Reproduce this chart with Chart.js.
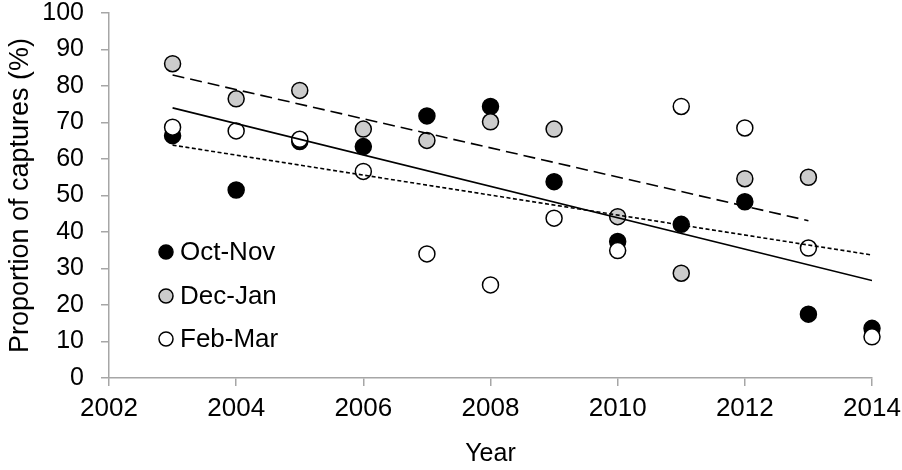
<!DOCTYPE html>
<html>
<head>
<meta charset="utf-8">
<script src="https://cdn.jsdelivr.net/npm/chart.js@4/dist/chart.umd.min.js"></script>
<style>
  html, body { margin: 0; padding: 0; background: #fff; }
  #wrap { width: 902px; height: 470px; }
</style>
</head>
<body>
<div id="wrap"><canvas id="myChart" width="902" height="470"></canvas></div>
<script>
// values
var years = [2003, 2004, 2005, 2006, 2007, 2008, 2009, 2010, 2011, 2012, 2013, 2014];
var octNov = [66.4, 51.5, 64.8, 63.4, 71.8, 74.4, 53.8, 37.4, 42.1, 48.3, 17.5, 13.6];
var decJan = [86.1, 76.5, 78.8, 68.2, 65.1, 70.2, 68.2, 44.2, 28.7, 54.6, 55.0];
var febMar = [68.7, 67.7, 65.4, 56.6, 34.0, 25.5, 43.8, 34.9, 74.4, 68.5, 35.6, 11.3];

// trend line end points
var octNovTrendX = [2003, 2014];
var octNovTrend = [74.0, 26.7];
var decJanTrendX = [2003, 2013];
var decJanTrend = [83.0, 43.1];
var febMarTrendX = [2003, 2014];
var febMarTrend = [63.8, 33.7];

var seriesNames = ['Oct-Nov', 'Dec-Jan', 'Feb-Mar'];

function pts(xs, ys) {
    return ys.map(function (v, i) { return { x: xs[i], y: v }; });
}

var FONT = 'Liberation Sans, Arial, sans-serif';
var axisGrey = '#a6a6a6';

// legend drawn inside the plot, bottom left
var insideLegend = {
    id: 'insideLegend',
    afterDraw: function (chart) {
        var c = chart.ctx;
        var rows = [252, 296, 339];
        c.save();
        c.font = '26px ' + FONT;
        c.textBaseline = 'middle';
        c.textAlign = 'left';
        for (var i = 0; i < 3; i++) {
            var ds = chart.data.datasets[i];
            c.beginPath();
            c.arc(166, rows[i], 7, 0, Math.PI * 2);
            c.fillStyle = ds.backgroundColor;
            c.fill();
            c.lineWidth = 1.5;
            c.strokeStyle = '#000';
            c.stroke();
            c.fillStyle = '#000';
            c.fillText(ds.label, 180, rows[i] + 1);
        }
        c.restore();
    }
};

var ctx = document.getElementById('myChart').getContext('2d');
var myChart = new Chart(ctx, {
    type: 'scatter',
    data: {
        datasets: [{
            label: seriesNames[0],
            data: pts(years, octNov),
            backgroundColor: '#000000',
            borderColor: '#000000',
            borderWidth: 1.5,
            pointRadius: 8,
            clip: false,
            order: 3
        }, {
            label: seriesNames[1],
            data: pts(years, decJan),
            backgroundColor: '#cccccc',
            borderColor: '#000000',
            borderWidth: 1.5,
            pointRadius: 8,
            clip: false,
            order: 2
        }, {
            label: seriesNames[2],
            data: pts(years, febMar),
            backgroundColor: '#ffffff',
            borderColor: '#000000',
            borderWidth: 1.5,
            pointRadius: 8,
            clip: false,
            order: 1
        }, {
            type: 'line',
            label: 'trend1',
            data: pts(octNovTrendX, octNovTrend),
            borderColor: '#000',
            borderWidth: 1.6,
            pointRadius: 0,
            order: 0
        }, {
            type: 'line',
            label: 'trend2',
            data: pts(decJanTrendX, decJanTrend),
            borderColor: '#000',
            borderWidth: 1.6,
            borderDash: [12, 6],
            pointRadius: 0,
            order: 0
        }, {
            type: 'line',
            label: 'trend3',
            data: pts(febMarTrendX, febMarTrend),
            borderColor: '#000',
            borderWidth: 1.6,
            borderDash: [4, 2.5],
            pointRadius: 0,
            order: 0
        }]
    },
    options: {
        responsive: false,
        animation: false,
        layout: { padding: { top: 13, right: 30, left: 0, bottom: 0 } },
        plugins: {
            legend: { display: false },
            tooltip: { enabled: false }
        },
        scales: {
            x: {
                type: 'linear',
                min: 2002,
                max: 2014,
                border: { color: axisGrey, width: 1.5 },
                grid: { drawOnChartArea: false, color: axisGrey, tickLength: 8, lineWidth: 1.5 },
                ticks: {
                    stepSize: 2,
                    color: '#000',
                    padding: 7,
                    font: { family: FONT, size: 26 },
                    callback: function (v) { return String(v); }
                },
                title: {
                    display: true,
                    text: 'Year',
                    color: '#000',
                    font: { family: FONT, size: 25 },
                    padding: { top: 0, bottom: 1 }
                },
                afterFit: function (s) {
                    s.height = 470 - 378;
                    s.paddingLeft = 0;
                    s.paddingRight = 0;
                }
            },
            y: {
                min: 0,
                max: 100,
                border: { color: axisGrey, width: 1.5 },
                grid: { drawOnChartArea: false, color: axisGrey, tickLength: 8, lineWidth: 1.5 },
                ticks: {
                    stepSize: 10,
                    color: '#000',
                    padding: 17,
                    font: { family: FONT, size: 25 }
                },
                title: {
                    display: true,
                    text: 'Proportion of captures (%)',
                    color: '#000',
                    font: { family: FONT, size: 27 },
                    padding: { top: 4, bottom: 0 }
                },
                afterFit: function (s) {
                    s.width = 109;
                    s.paddingTop = 0;
                    s.paddingBottom = 0;
                }
            }
        }
    },
    plugins: [insideLegend]
});
</script>
</body>
</html>
